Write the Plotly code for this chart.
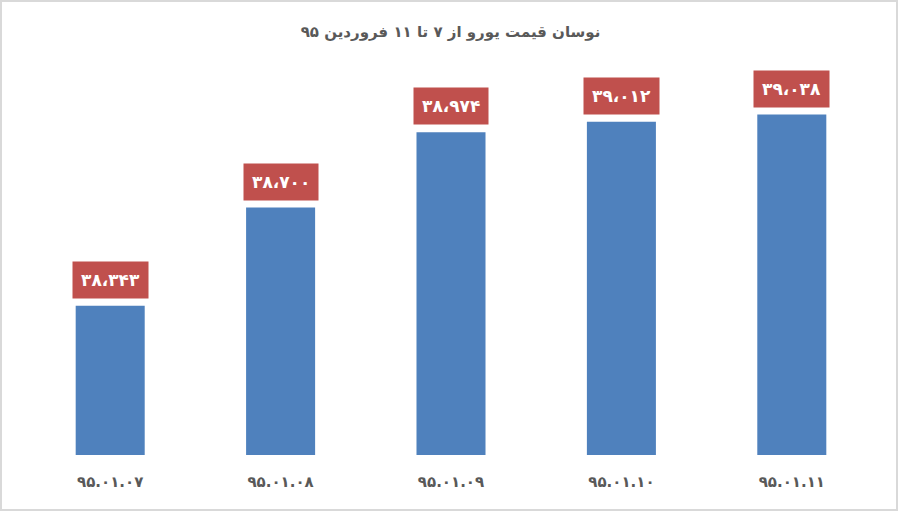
import plotly.graph_objects as go

dates = ["95.01.07", "95.01.08", "95.01.09", "95.01.10", "95.01.11"]
prices = [38343, 38700, 38974, 39012, 39038]
title = "نوسان قیمت یورو از ۷ تا ۱۱ فروردین ۹۵"

fa_digits = str.maketrans("0123456789", "۰۱۲۳۴۵۶۷۸۹")


def to_fa(s):
    return s.translate(fa_digits)


cat_labels = [to_fa(d) for d in dates]
val_labels = [to_fa(f"{v:,}").replace(",", "،") for v in prices]

W, H = 901, 513
ml, mr, mt, mb = 25, 24, 70, 58
pw = W - ml - mr
ph = H - mt - mb

fig = go.Figure()
fig.add_trace(
    go.Bar(
        x=cat_labels,
        y=prices,
        marker=dict(color="#4f81bd", line=dict(width=0)),
        hoverinfo="skip",
    )
)

for c, v, t in zip(cat_labels, prices, val_labels):
    fig.add_annotation(
        x=c, y=v, text=t,
        showarrow=False,
        yanchor="bottom",
        yshift=7,
        bgcolor="#c0504d",
        borderpad=8,
        font=dict(family="DejaVu Sans", size=17, color="white", weight="bold"),
    )

# light grey frame round the whole chart
fig.add_shape(
    type="rect", xref="paper", yref="paper",
    x0=(1 - ml) / pw, x1=(W - 4 - ml) / pw,
    y0=(3 - mb) / ph, y1=(H - 1 - mb) / ph,
    line=dict(color="#d9d9d9", width=2),
)

fig.update_layout(
    width=W, height=H,
    margin=dict(l=ml, r=mr, t=mt, b=mb),
    paper_bgcolor="white",
    plot_bgcolor="white",
    bargap=0.595,
    showlegend=False,
    title=dict(
        text=title, x=0.5, xanchor="center", y=1 - 32 / H, yanchor="middle",
        font=dict(family="DejaVu Sans", size=15, color="#595959", weight="bold"),
    ),
    xaxis=dict(
        showline=False, showgrid=False, ticks="",
        ticklabelstandoff=16,
        tickfont=dict(family="DejaVu Sans", size=15, color="#595959", weight="bold"),
    ),
    yaxis=dict(
        range=[37800, 39200], visible=False, showgrid=False,
    ),
)

fig.write_html(
    "out.html",
    config={"displayModeBar": False},
    post_script="document.body.style.margin='0';",
)
